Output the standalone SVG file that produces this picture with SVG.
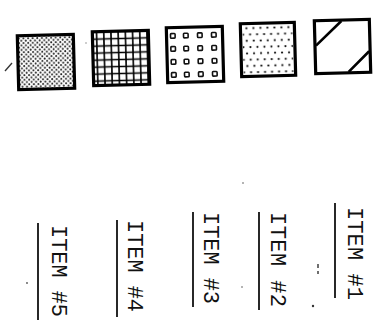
<svg xmlns="http://www.w3.org/2000/svg" width="380" height="324" viewBox="0 0 380 324">
<style>
.box{fill:none;stroke:#000;stroke-width:3.2}
.lbl{font-family:"Liberation Mono","DejaVu Sans Mono",monospace;font-size:22px;fill:#111}
.rule{stroke:#111;stroke-width:1.8}
.mark{stroke:#333;stroke-width:1.4;fill:none}
</style>
<defs>
<pattern id="stip" width="4.6" height="4.6" patternUnits="userSpaceOnUse">
<circle cx="1.1" cy="1.1" r="1.0" fill="#222"/>
<circle cx="3.4" cy="3.4" r="1.0" fill="#222"/>
</pattern>
<pattern id="grid" width="7.2" height="7" patternUnits="userSpaceOnUse">
<path d="M3.6 0V7M0 3.5H7.2" stroke="#000" stroke-width="1.6"/>
</pattern>
<pattern id="dots" width="7" height="12.6" patternUnits="userSpaceOnUse">
<circle cx="2" cy="2.5" r="1.1" fill="#111"/>
<circle cx="5.5" cy="8.8" r="1.1" fill="#111"/>
</pattern>
<rect id="sq" width="4.6" height="4.6" rx="0.8" fill="none" stroke="#111" stroke-width="1.6"/>
</defs>
<g id="swatch1" transform="rotate(-1.5 46 62)">
<rect x="18" y="35" width="56" height="54" fill="url(#stip)"/>
<rect class="box" x="18" y="35" width="56" height="54"/>
</g>
<g id="swatch2" transform="rotate(-1.5 121 58)">
<rect x="93" y="31" width="56" height="54" fill="url(#grid)"/>
<rect class="box" x="93" y="31" width="56" height="54"/>
</g>
<g id="swatch3" transform="rotate(-1.5 195 54)">
<use href="#sq" x="171" y="33"/><use href="#sq" x="184" y="33"/><use href="#sq" x="198" y="33"/><use href="#sq" x="212" y="33"/>
<use href="#sq" x="171" y="46"/><use href="#sq" x="184" y="46"/><use href="#sq" x="198" y="46"/><use href="#sq" x="212" y="46"/>
<use href="#sq" x="171" y="59"/><use href="#sq" x="184" y="59"/><use href="#sq" x="198" y="59"/><use href="#sq" x="212" y="59"/>
<use href="#sq" x="171" y="72"/><use href="#sq" x="184" y="72"/><use href="#sq" x="198" y="72"/><use href="#sq" x="212" y="72"/>
<rect class="box" x="167" y="27" width="56" height="55"/>
</g>
<g id="swatch4" transform="rotate(-1.5 268 50)">
<rect x="243" y="25" width="50" height="49" fill="url(#dots)"/>
<rect class="box" x="241" y="23" width="54" height="53"/>
</g>
<g id="swatch5" transform="rotate(-1.5 342 46)">
<rect class="box" x="315" y="20" width="55" height="53"/>
<path d="M316 45L342 21M348 72L369 52" stroke="#000" stroke-width="2.6" fill="none"/>
</g>
<g id="rules">
<line class="rule" x1="335" y1="203" x2="335" y2="298"/>
<line class="rule" x1="259" y1="212" x2="259" y2="310"/>
<line class="rule" x1="193" y1="212" x2="193" y2="307"/>
<line class="rule" x1="117" y1="220" x2="117" y2="317"/>
<line class="rule" x1="38" y1="223" x2="38" y2="320"/>
</g>
<g id="item1"><text class="lbl" transform="translate(348 207) rotate(90)" textLength="93" lengthAdjust="spacing">ITEM #1</text></g>
<g id="item2"><text class="lbl" transform="translate(271 212) rotate(90)" textLength="95" lengthAdjust="spacing">ITEM #2</text></g>
<g id="item3"><text class="lbl" transform="translate(204 212) rotate(90)" textLength="92" lengthAdjust="spacing">ITEM #3</text></g>
<g id="item4"><text class="lbl" transform="translate(128 220) rotate(90)" textLength="92" lengthAdjust="spacing">ITEM #4</text></g>
<g id="item5"><text class="lbl" transform="translate(52 225) rotate(90)" textLength="92" lengthAdjust="spacing">ITEM #5</text></g>
<g id="specks">
<path class="mark" d="M5 71L12 63"/>
<path class="mark" d="M318 264V268M318 271V274"/>
<circle cx="313" cy="306" r="1.2" fill="#333"/>
<circle cx="243" cy="183" r="0.8" fill="#555"/>
<circle cx="242" cy="287" r="0.8" fill="#555"/>
<circle cx="27" cy="283" r="0.9" fill="#555"/>
<circle cx="86" cy="43" r="0.7" fill="#777"/>
</g>
</svg>
